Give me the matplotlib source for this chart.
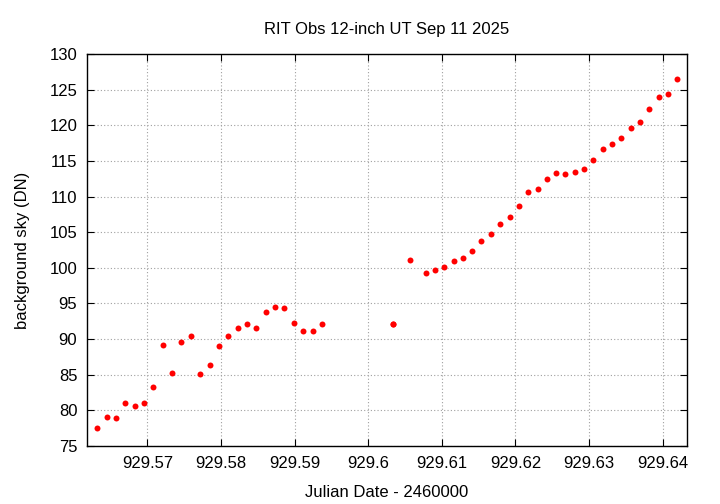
import matplotlib.pyplot as plt
import numpy as np

plt.rcParams['font.family'] = ['Liberation Sans', 'DejaVu Sans']

# Julian Date - 2460000
jd = [929.56315, 929.56447, 929.56569, 929.56701, 929.56827, 929.56954,
      929.57082, 929.57212, 929.57334, 929.57462, 929.57588, 929.57720,
      929.57846, 929.57973, 929.58100, 929.58227, 929.58353, 929.58480,
      929.58607, 929.58734, 929.58861, 929.58992, 929.59119, 929.59245,
      929.59372, 929.60332, 929.60340,
      929.60565, 929.60779, 929.60905, 929.61033, 929.61159, 929.61285,
      929.61413, 929.61539, 929.61666, 929.61793, 929.61920, 929.62046,
      929.62174, 929.62300, 929.62427, 929.62554, 929.62680, 929.62807,
      929.62934, 929.63060, 929.63187, 929.63314, 929.63440, 929.63567,
      929.63694, 929.63820, 929.63947, 929.64074, 929.64200]

# background sky (DN)
sky = [77.6, 79.1, 79.0, 81.1, 80.6, 81.1,
       83.3, 89.2, 85.3, 89.6, 90.4, 85.1,
       86.3, 89.1, 90.4, 91.5, 92.1, 91.6,
       93.8, 94.5, 94.4, 92.3, 91.2, 91.2,
       92.1, 92.1, 92.1,
       101.1, 99.3, 99.7, 100.1, 101.0, 101.4,
       102.3, 103.8, 104.7, 106.2, 107.1, 108.6,
       110.6, 111.1, 112.4, 113.3, 113.1, 113.5,
       113.9, 115.1, 116.7, 117.3, 118.2, 119.6,
       120.4, 122.3, 123.9, 124.4, 126.5]

x_ticks = [929.57, 929.58, 929.59, 929.60, 929.61, 929.62, 929.63, 929.64]
x_labels = ['929.57', '929.58', '929.59', '929.6', '929.61', '929.62', '929.63', '929.64']
y_ticks = np.arange(75, 131, 5)

fig = plt.figure(figsize=(7.2, 5.04), dpi=100)
ax = fig.add_axes([0.1208, 0.115, 0.8333, 0.778])

ax.plot(jd, sky, 'o', color='#ff0000', markersize=4.3, markeredgewidth=0)

ax.set_xlim(929.5618, 929.6433)
ax.set_ylim(75, 130)
ax.set_xticks(x_ticks)
ax.set_xticklabels(x_labels)
ax.set_yticks(y_ticks)

ax.grid(True, color='#a0a0a0', linestyle=(0, (1, 2)), linewidth=0.8)
ax.tick_params(direction='in', length=5, width=0.8, top=True, right=True,
               labelsize=12, colors='black', pad=7)
for s in ax.spines.values():
    s.set_linewidth(1.0)

ax.set_title('RIT Obs 12-inch UT Sep 11 2025', fontsize=12, pad=14)
ax.set_xlabel('Julian Date - 2460000', fontsize=12, labelpad=10)
ax.set_ylabel('background sky (DN)', fontsize=12, labelpad=14)

fig.savefig('out.png', dpi=100)
